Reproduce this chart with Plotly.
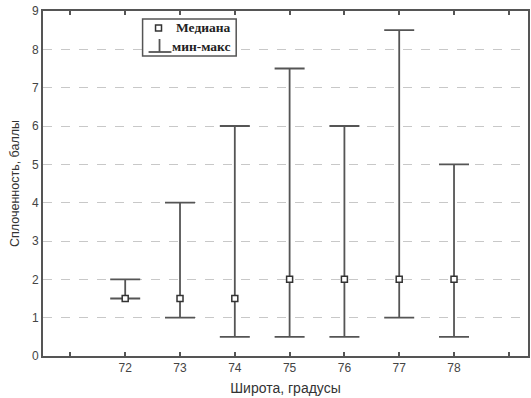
import plotly.graph_objects as go

latitude = [72, 73, 74, 75, 76, 77, 78]
median = [1.5, 1.5, 1.5, 2, 2, 2, 2]
min_val = [1.5, 1, 0.5, 0.5, 0.5, 1, 0.5]
max_val = [2, 4, 6, 7.5, 6, 8.5, 5]
y_ticks = [0, 1, 2, 3, 4, 5, 6, 7, 8, 9]

W, H = 531, 398
L, R, T, B = 43, 1, 11, 42
pw, ph = W - L - R, H - T - B

def px(x):
    return (x - L) / pw

def py(y):
    return (H - B - y) / ph

col = "#555555"
fig = go.Figure()
fig.add_trace(go.Scatter(
    x=latitude, y=median, mode="markers",
    marker=dict(symbol="square", size=6, color="white", line=dict(color="#333", width=1.5)),
    error_y=dict(type="data", symmetric=False,
                 array=[a - m for a, m in zip(max_val, median)],
                 arrayminus=[m - b for m, b in zip(median, min_val)],
                 color=col, thickness=1.8, width=15),
    showlegend=False,
))

sans = "Liberation Sans Narrow, Arial Narrow, Liberation Sans, Arial"
fig.update_layout(
    width=W, height=H, margin=dict(l=L, r=R, t=T, b=B),
    paper_bgcolor="white", plot_bgcolor="white",
    xaxis=dict(range=[70.5, 79.35], tickvals=[71, 72, 73, 74, 75, 76, 77, 78, 79],
               ticktext=["", "72", "73", "74", "75", "76", "77", "78", ""],
               ticks="inside", ticklen=4, tickcolor=col, tickwidth=1.5,
               showgrid=False, zeroline=False, showline=True, linecolor=col, linewidth=2, mirror="ticks",
               tickfont=dict(family=sans, size=12, color="#444"),
               title=dict(text="Широта, градусы", font=dict(family=sans, size=14, color="#333"), standoff=9)),
    yaxis=dict(range=[0, 9], tickvals=y_ticks, ticks="", showgrid=True,
               gridcolor="#c8c8c8", griddash="dash", gridwidth=1, zeroline=False,
               showline=True, linecolor=col, linewidth=2, mirror=True,
               tickfont=dict(family=sans, size=12, color="#444"),
               title=dict(text="Сплоченность, баллы", font=dict(family=sans, size=12.5, color="#333"), standoff=10)),
)

shapes = []
# legend box
shapes.append(dict(type="rect", xref="paper", yref="paper", x0=px(143), x1=px(237), y0=py(19), y1=py(56),
                   line=dict(color=col, width=1.5), fillcolor="white", layer="above"))
# median square symbol
shapes.append(dict(type="rect", xref="paper", yref="paper", x0=px(156), x1=px(162), y0=py(25), y1=py(31),
                   line=dict(color="#333", width=1.5), fillcolor="white", layer="above"))
# whisker symbol
shapes.append(dict(type="line", xref="paper", yref="paper", x0=px(160), x1=px(160), y0=py(39), y1=py(52),
                   line=dict(color=col, width=1.8), layer="above"))
shapes.append(dict(type="line", xref="paper", yref="paper", x0=px(149), x1=px(172), y0=py(52), y1=py(52),
                   line=dict(color=col, width=1.8), layer="above"))
fig.update_layout(shapes=shapes)

legfont = dict(family="Liberation Serif, Times New Roman", size=13.5, color="#222")
fig.add_annotation(xref="paper", yref="paper", x=px(175), y=py(28), text="<b>Медиана</b>",
                   showarrow=False, xanchor="left", yanchor="middle", font=legfont)
fig.add_annotation(xref="paper", yref="paper", x=px(171), y=py(47), text="<b>мин-макс</b>",
                   showarrow=False, xanchor="left", yanchor="middle", font=legfont)

fig.write_html("out.html")
